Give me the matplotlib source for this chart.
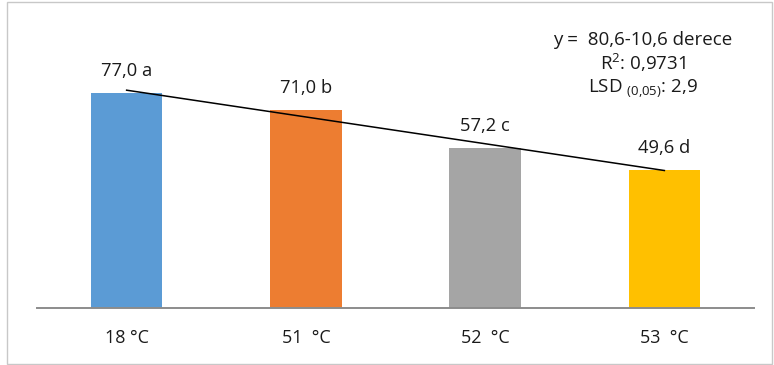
import numpy as np
import matplotlib
matplotlib.use("Agg")
import matplotlib.pyplot as plt
from matplotlib.patches import Rectangle

categories = ["18 °C", "51  °C", "52  °C", "53  °C"]
values = [77.0, 71.0, 57.2, 49.6]
letters = ["a", "b", "c", "d"]
colors = ["#5B9BD5", "#ED7D31", "#A5A5A5", "#FFC000"]
eq_lines = ["y =  80,6-10,6 derece", "R$^{2}$: 0,9731", "LSD $_{(0{,}05)}$: 2,9"]

plt.rcParams['font.family'] = ['Open Sans', 'DejaVu Sans']
plt.rcParams['mathtext.fontset'] = 'custom'
plt.rcParams['mathtext.rm'] = 'Open Sans'
plt.rcParams['mathtext.it'] = 'Open Sans'
plt.rcParams['mathtext.default'] = 'rm'

W, H = 774, 365
fig = plt.figure(figsize=(W / 100, H / 100), dpi=100)

# outer border
fig.patches.append(Rectangle((7 / W, 1 / H), (772 - 7) / W, (363 - 1) / H,
                             transform=fig.transFigure, fill=False,
                             edgecolor="#c8c8c8", lw=1.0))

ax = fig.add_axes([37 / W, (H - 308) / H, 717 / W, 251 / H])
x = np.arange(len(values))
ax.bar(x, values, width=0.40, color=colors, zorder=2)
ax.set_xlim(-0.5, len(values) - 0.5)
ax.set_ylim(0, 90)

# linear trend line
coef = np.polyfit(x + 1, values, 1)
ax.plot([x[0], x[-1]], np.polyval(coef, [x[0] + 1, x[-1] + 1]),
        color="black", lw=1.1, zorder=3)

for xi, v, l in zip(x, values, letters):
    ax.annotate(f"{v:.1f}".replace(".", ",") + " " + l, (xi, v),
                xytext=(0, 22), textcoords="offset pixels",
                ha="center", va="center", fontsize=13.2, color="#1a1a1a")

for s in ["left", "right", "top"]:
    ax.spines[s].set_visible(False)
ax.spines["bottom"].set_color("#8c8c8c")
ax.spines["bottom"].set_linewidth(1.4)
ax.set_yticks([])
ax.set_xticks(x)
ax.set_xticklabels(categories, fontsize=13, color="#1a1a1a")
ax.tick_params(axis="x", length=0, pad=15)

ys = [40, 63, 88]
for t, yy in zip(eq_lines, ys):
    fig.text(643 / W, 1 - yy / H, t, ha="center", va="center",
             fontsize=13.5, color="#1a1a1a")

fig.savefig("out.png", dpi=100)
